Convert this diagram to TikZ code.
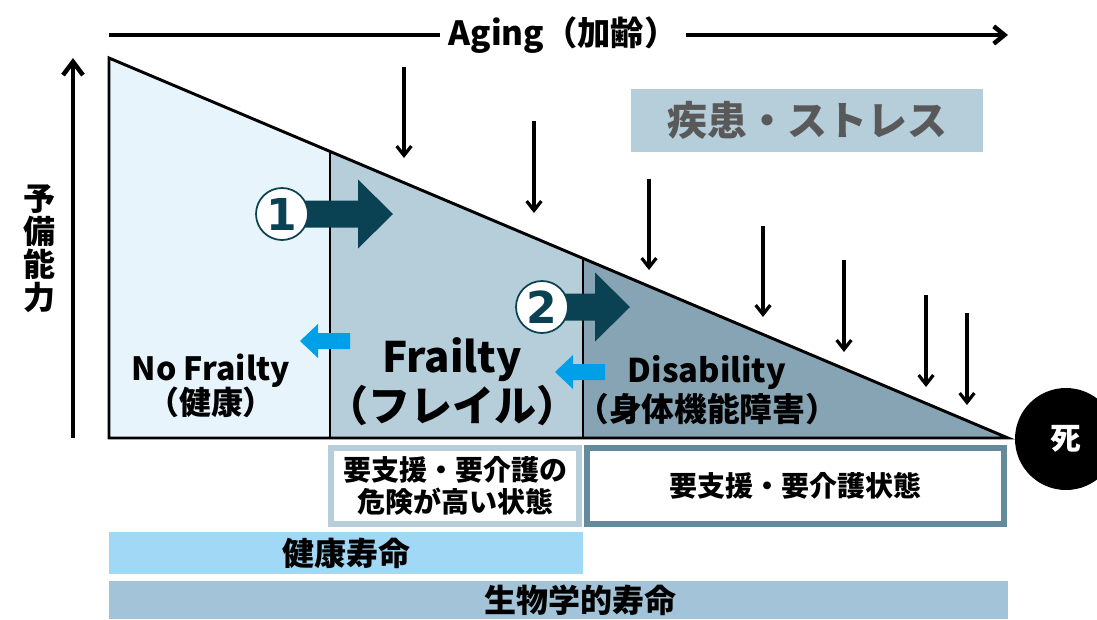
\documentclass[tikz,border=0pt]{standalone}
\usepackage{fontspec}
\setmainfont{Noto Sans CJK JP}
\newfontfamily\digitfont{DejaVu Sans}
\usetikzlibrary{arrows.meta,calc}

\definecolor{healthyzone}{HTML}{E8F4FC}
\definecolor{frailzone}{HTML}{B6CDDA}
\definecolor{disabzone}{HTML}{87A4B4}
\definecolor{progressteal}{HTML}{0B4253}
\definecolor{recoverblue}{HTML}{00A0E9}
\definecolor{healthbar}{HTML}{A0D8F5}
\definecolor{lifebar}{HTML}{A3C4D8}
\definecolor{careborder}{HTML}{658A9B}
\definecolor{stresstext}{HTML}{595959}

\begin{document}
\begin{tikzpicture}[
    x=0.75pt, y=-0.75pt,
    axisline/.style={line width=3.4pt},
    stressarrow/.style={-{Straight Barb[length=7pt, width=11pt]}, line width=2.4pt},
    zonelabel/.style={align=center},
    stepnum/.style={circle, draw=progressteal, line width=1.3pt, fill=white, minimum size=39pt, inner sep=0pt, text=progressteal, font=\digitfont\bfseries\fontsize{33}{33}\selectfont},
    carebox/.style={rectangle, fill=white, line width=4.5pt, minimum height=57pt, align=center, font=\bfseries\fontsize{21}{24}\selectfont},
    spanlabel/.style={font=\bfseries\fontsize{24}{24}\selectfont}
]
\useasboundingbox (0,0) rectangle (1097,619);

% === AXES ===
\node[font=\bfseries\fontsize{25}{25}\selectfont, inner xsep=6pt] (aging) at (563,35) {Aging（加齢）};
\coordinate (agestart) at (109,35);
\coordinate (ageend) at (1008,35);
\draw[axisline] (agestart) -- (aging.west);
\draw[axisline, -{Straight Barb[length=8pt, width=13pt]}] (aging.east) -- (ageend);

\coordinate (reservelow) at (73,438);
\coordinate (reservehigh) at (73,58);
\draw[axisline, -{Straight Barb[length=10pt, width=15pt]}] (reservelow) -- (reservehigh);
\node[font=\bfseries\fontsize{24}{24.8}\selectfont, align=center] (reserve) at (39,249) {予\\備\\能\\力};

% === RESERVE TRIANGLE ===
\coordinate (apex) at (109,58);
\coordinate (base) at (109,438);
\coordinate (death) at (1008,438);
\coordinate (cut1) at ($(apex)!0.2458!(death)$);
\coordinate (cut2) at ($(apex)!0.5273!(death)$);

\fill[healthyzone] (apex) -- (cut1) -- (cut1 |- base) -- (base) -- cycle;
\fill[frailzone] (cut1) -- (cut2) -- (cut2 |- base) -- (cut1 |- base) -- cycle;
\fill[disabzone] (cut2) -- (death) -- (cut2 |- base) -- cycle;
\draw[line width=1.5pt] (cut1) -- (cut1 |- base);
\draw[line width=1.5pt] (cut2) -- (cut2 |- base);
\draw[line width=2.2pt] (apex) -- (death) -- (base) -- cycle;

% Zone labels
\node[zonelabel, font=\bfseries\fontsize{24}{26}\selectfont] (nofrailty) at (211,386) {No Frailty\\（健康）};
\node[zonelabel, font=\bfseries\fontsize{31.5}{37}\selectfont] (frailty) at (452,382) {Frailty\\（フレイル）};
\node[zonelabel, font=\bfseries\fontsize{24.5}{29}\selectfont] (disability) at (707,390) {Disability\\（身体機能障害）};

% Progression arrows (1), (2)
\foreach \cx/\cy/\tx in {282/214/393, 542/307/630} {
    \fill[progressteal] (\cx,\cy-13.5) -- (\tx-35,\cy-13.5) -- (\tx-35,\cy-34.5) -- (\tx,\cy)
        -- (\tx-35,\cy+34.5) -- (\tx-35,\cy+13.5) -- (\cx,\cy+13.5) -- cycle;
}
\node[stepnum] (step1) at (282,214) {1};
\node[stepnum] (step2) at (542,307) {2};

% Recovery arrows (back to the left)
\foreach \tx/\ty in {300/341, 555/372} {
    \fill[recoverblue] (\tx,\ty) -- ++(18,-17) -- ++(0,9) -- ++(32,0) -- ++(0,16)
        -- ++(-32,0) -- ++(0,9) -- cycle;
}

% === DISEASE / STRESS ===
\node[fill=frailzone, minimum width=264pt, minimum height=47pt, text=stresstext,
      font=\bfseries\fontsize{30}{30}\selectfont] (stress) at (807,120.5) {疾患・ストレス};

\foreach \sx/\sa/\sb in {404/67/158, 534/121/213, 649/179/270, 763/226/317,
                         844/260/352, 926/295/387, 967/313/405} {
    \draw[stressarrow] (\sx,\sa) -- (\sx,\sb);
}

% Death
\node[circle, fill=black, minimum size=76.5pt, text=white,
      font=\bfseries\fontsize{23}{23}\selectfont] (shi) at (1066,439) {死};

% === CARE STATES ===
\node[carebox, draw=frailzone, minimum width=186pt] (riskbox) at (455,486)
    {要支援・要介護の\\危険が高い状態};
\node[carebox, draw=careborder, minimum width=312.75pt] (carebox) at (795.5,486)
    {要支援・要介護状態};

% === LIFESPANS ===
\fill[healthbar] (109,532) rectangle (583,574);
\node[spanlabel] (healthspan) at (346,553) {健康寿命};
\fill[lifebar] (109,581) rectangle (1008,619);
\node[spanlabel] (lifespan) at (580,600) {生物学的寿命};

\end{tikzpicture}
\end{document}
